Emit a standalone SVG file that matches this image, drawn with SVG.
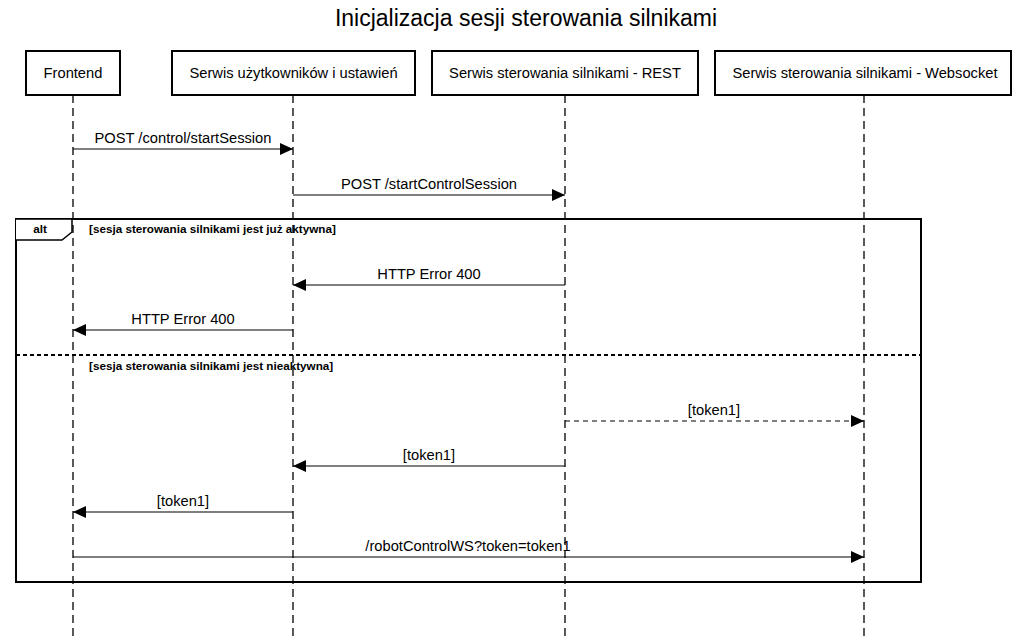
<svg xmlns="http://www.w3.org/2000/svg" width="1023" height="639" viewBox="0 0 1023 639">
<style>
.box{fill:#fff;stroke:#000;stroke-width:2}
.life{stroke:#000;stroke-width:1.3;stroke-dasharray:8,5;fill:none}
.lbl{font-family:"Liberation Sans",Arial,sans-serif;font-size:14.7px;fill:#000;text-anchor:middle}
.msg{stroke:#000;stroke-width:1.2;fill:none}
.dash{stroke-dasharray:5,4}
.guard{font-family:"Liberation Sans",Arial,sans-serif;font-size:11.7px;font-weight:bold;fill:#000}
</style>
<defs>
<marker id="ah" markerWidth="14" markerHeight="12" refX="13" refY="6" orient="auto" markerUnits="userSpaceOnUse">
<path d="M0,0 L13,6 L0,12 Z" fill="#000"/>
</marker>
</defs>
<rect width="1023" height="639" fill="#fff"/>
<text x="526" y="26" font-family="Liberation Sans,Arial,sans-serif" font-size="23" text-anchor="middle" fill="#000">Inicjalizacja sesji sterowania silnikami</text>

<g id="frontend">
<line class="life" x1="73" y1="95" x2="73" y2="639"/>
<rect class="box" x="26" y="51" width="94" height="44"/>
<text class="lbl" x="73" y="78">Frontend</text>
</g>
<g id="users">
<line class="life" x1="293" y1="95" x2="293" y2="639"/>
<rect class="box" x="172" y="51" width="243" height="44"/>
<text class="lbl" x="293.5" y="78">Serwis użytkowników i ustawień</text>
</g>
<g id="rest">
<line class="life" x1="565" y1="95" x2="565" y2="639"/>
<rect class="box" x="432" y="51" width="266" height="44"/>
<text class="lbl" x="565" y="78">Serwis sterowania silnikami - REST</text>
</g>
<g id="ws">
<line class="life" x1="864" y1="95" x2="864" y2="639"/>
<rect class="box" x="715" y="51" width="296" height="44"/>
<text class="lbl" x="865" y="78">Serwis sterowania silnikami - Websocket</text>
</g>

<g id="alt">
<rect x="16" y="219" width="905" height="363" fill="none" stroke="#000" stroke-width="2"/>
<path d="M16,219 L72,219 L72,232 L62,240 L16,240" fill="#fff" stroke="#000" stroke-width="1.5"/>
<text class="guard" x="40" y="233" text-anchor="middle">alt</text>
<text class="guard" x="89" y="233">[sesja sterowania silnikami jest już aktywna]</text>
<line x1="16" y1="355" x2="921" y2="355" stroke="#000" stroke-width="2" stroke-dasharray="4,3"/>
<text class="guard" x="89" y="370">[sesja sterowania silnikami jest nieaktywna]</text>
</g>

<g id="connectors">
<line class="msg" x1="73" y1="149" x2="293" y2="149" marker-end="url(#ah)"/>
<text class="lbl" x="183" y="143">POST /control/startSession</text>
<line class="msg" x1="293" y1="195" x2="565" y2="195" marker-end="url(#ah)"/>
<text class="lbl" x="429" y="189">POST /startControlSession</text>
<line class="msg" x1="565" y1="285" x2="293" y2="285" marker-end="url(#ah)"/>
<text class="lbl" x="429" y="279">HTTP Error 400</text>
<line class="msg" x1="293" y1="330" x2="73" y2="330" marker-end="url(#ah)"/>
<text class="lbl" x="183" y="324">HTTP Error 400</text>
<line class="msg dash" x1="565" y1="421" x2="864" y2="421" marker-end="url(#ah)"/>
<text class="lbl" x="714" y="415">[token1]</text>
<line class="msg" x1="565" y1="466" x2="293" y2="466" marker-end="url(#ah)"/>
<text class="lbl" x="429" y="460">[token1]</text>
<line class="msg" x1="293" y1="512" x2="73" y2="512" marker-end="url(#ah)"/>
<text class="lbl" x="183" y="506">[token1]</text>
<line class="msg" x1="73" y1="557" x2="864" y2="557" marker-end="url(#ah)"/>
<text class="lbl" x="468" y="551">/robotControlWS?token=token1</text>
</g>
</svg>
